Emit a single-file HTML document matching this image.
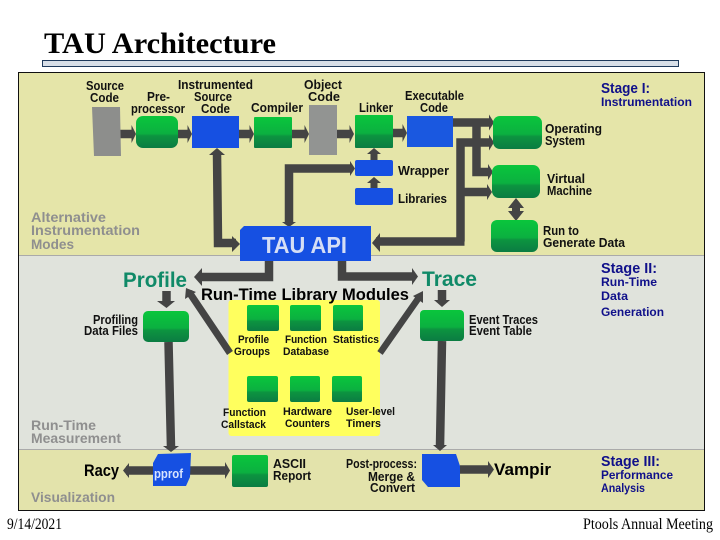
<!DOCTYPE html>
<html><head><meta charset="utf-8"><style>
html,body{margin:0;padding:0;background:#fff}
svg{display:block}
text{font-family:"Liberation Sans",sans-serif;font-weight:bold;fill:#111;font-size:12.5px}
.t{stroke:#444;stroke-width:8.5;fill:none}
.s{fill:#10108a}
.g{fill:#8f8f8f;font-size:14px}
.a{fill:#444}
.m{font-size:11px}
</style></head><body>
<svg width="720" height="540" viewBox="0 0 720 540" xmlns="http://www.w3.org/2000/svg">
<defs>
<linearGradient id="gr" x1="0" y1="0" x2="0" y2="1"><stop offset="0" stop-color="#0ac63c"/><stop offset=".55" stop-color="#0bb040"/><stop offset=".62" stop-color="#0c9440"/><stop offset="1" stop-color="#0b7c42"/></linearGradient>
</defs>
<text x="44" y="53" textLength="232" lengthAdjust="spacingAndGlyphs" style="font-family:'Liberation Serif',serif;font-size:30px;fill:#000">TAU Architecture</text>
<rect x="42.5" y="60.5" width="636" height="6" fill="#d8dfe8" stroke="#1f3a5c" stroke-width="1"/>

<rect x="18" y="72" width="687" height="184" fill="#e5e5a9"/>
<rect x="18" y="256" width="687" height="194" fill="#e0e3dc"/>
<rect x="18" y="450" width="687" height="60" fill="#e3e3ab"/>
<line x1="18" y1="255.5" x2="705" y2="255.5" stroke="#aaa"/>
<line x1="18" y1="449.5" x2="705" y2="449.5" stroke="#aaa"/>
<rect x="18.5" y="72.5" width="686" height="438" fill="none" stroke="#111"/>

<!-- yellow -->
<rect x="228.5" y="300" width="151.5" height="136" rx="3" fill="#ffff5e"/>

<!-- connectors -->
<g class="t">
<path d="M120 134H133M177 134H189M239 134H250M292 134H305M337 134H351M393 133H404"/>
<path d="M453 122.5H490M476.5 122.5V172H489M460.5 241.5V142.5H490M460.5 192H489M464.5 241.5H376"/>
<path d="M217 153L218 243H236M289 223V168.5H351"/>
<path d="M269 261V277H200M342 261V276.5H413"/>
<path d="M166.5 291V304M442 290V303M168.5 342L171 447M442 341L440 446"/>
<path d="M230 353L189 292" stroke-width="7"/>
<path d="M380 353L420 296" stroke-width="6.5"/>
<path d="M153 470.5H126M190 470.5H226M460 469.5H489"/>
<path d="M374 160V152M374 188V181" stroke-width="7"/>
<path d="M516 205V214" stroke-width="8"/>
</g>
<g class="a">
<polygon points="136,134 131.5,125 131.5,143"/>
<polygon points="192,134 187.5,125 187.5,143"/>
<polygon points="254,134 249.5,125 249.5,143"/>
<polygon points="309,134 304.5,125 304.5,143"/>
<polygon points="354,134 349.5,125 349.5,143"/>
<polygon points="407,133 402.5,124 402.5,142"/>
<polygon points="494,122.5 489,114.5 489,130.5"/>
<polygon points="494,142.5 489,134.5 489,150.5"/>
<polygon points="493,172 488,164 488,180"/>
<polygon points="492,192 487,184 487,200"/>
<polygon points="372,243 380,233 380,252"/>
<polygon points="217,148 209,155 225,155"/>
<polygon points="240,244 232,236 232,252"/>
<polygon points="289,227 282,222 296,222"/>
<polygon points="355,168.5 350,161 350,176"/>
<polygon points="374,148 367,154 381,154"/>
<polygon points="374,177 367,183 381,183"/>
<polygon points="516,198 508,208 524,208"/>
<polygon points="516,221 508,211 524,211"/>
<polygon points="194,277 202,268 202,286"/>
<polygon points="418,276.5 412,268 412,285"/>
<polygon points="186,288 185,299 196,292"/>
<polygon points="423,291 413,296 423,303"/>
<polygon points="166.5,308 157,301 175,301"/>
<polygon points="442,307 434,300 450,300"/>
<polygon points="171,452 163,446 179,446"/>
<polygon points="440,451 433,445 447,445"/>
<polygon points="123,470.5 129,463 129,478"/>
<polygon points="230,470.5 225,462 225,479"/>
<polygon points="494,469.5 488,461 488,478"/>
</g>

<!-- gray docs -->
<polygon points="92,107 120,107 121,156 94,156" fill="#8d8e8c"/>
<rect x="309" y="105" width="28" height="50" fill="#929492"/>

<!-- green -->
<g fill="url(#gr)">
<rect x="136" y="116" width="42" height="32" rx="7"/>
<rect x="254" y="117" width="38" height="31" rx="1"/>
<rect x="355" y="115" width="38" height="33" rx="1"/>
<rect x="493" y="116" width="49" height="33" rx="7"/>
<rect x="492" y="165" width="48" height="33" rx="7"/>
<rect x="491" y="220" width="47" height="32" rx="6"/>
<rect x="143" y="311" width="46" height="31" rx="5"/>
<rect x="420" y="310" width="44" height="31" rx="4"/>
<rect x="232" y="455" width="36" height="32" rx="2"/>
<rect x="247" y="305" width="32" height="26" rx="2"/>
<rect x="290" y="305" width="31" height="26" rx="2"/>
<rect x="333" y="305" width="30" height="26" rx="2"/>
<rect x="247" y="376" width="31" height="26" rx="2"/>
<rect x="290" y="376" width="30" height="26" rx="2"/>
<rect x="332" y="376" width="30" height="26" rx="2"/>
</g>

<!-- blue -->
<g fill="#1650e2">
<rect x="192" y="116" width="47" height="32"/>
<rect x="407" y="116" width="46" height="31" fill="#1a58e0"/>
<rect x="355" y="160" width="38" height="16" rx="2"/>
<rect x="355" y="188" width="38" height="17" rx="2"/>
<path d="M244 226H371V261H240V230Z"/>
<polygon points="158,454 191,453 190,477 186,486 153,486 153,463"/>
<polygon points="422,454 456,454 460,466 460,487 428,487 422,480"/>
</g>

<!-- labels -->
<g>
<text x="86" y="90" textLength="38" lengthAdjust="spacingAndGlyphs">Source</text>
<text x="90" y="102" textLength="29" lengthAdjust="spacingAndGlyphs">Code</text>
<text x="147" y="101" textLength="23" lengthAdjust="spacingAndGlyphs">Pre-</text>
<text x="131" y="113" textLength="54" lengthAdjust="spacingAndGlyphs">processor</text>
<text x="178" y="89" textLength="75" lengthAdjust="spacingAndGlyphs">Instrumented</text>
<text x="194" y="101" textLength="38" lengthAdjust="spacingAndGlyphs">Source</text>
<text x="201" y="113" textLength="29" lengthAdjust="spacingAndGlyphs">Code</text>
<text x="251" y="112" textLength="52" lengthAdjust="spacingAndGlyphs">Compiler</text>
<text x="304" y="89" textLength="38" lengthAdjust="spacingAndGlyphs">Object</text>
<text x="308" y="101" textLength="32" lengthAdjust="spacingAndGlyphs">Code</text>
<text x="359" y="112" textLength="34" lengthAdjust="spacingAndGlyphs">Linker</text>
<text x="405" y="100" textLength="59" lengthAdjust="spacingAndGlyphs">Executable</text>
<text x="420" y="112" textLength="28" lengthAdjust="spacingAndGlyphs">Code</text>
<text x="545" y="133" textLength="57" lengthAdjust="spacingAndGlyphs">Operating</text>
<text x="545" y="145" textLength="40" lengthAdjust="spacingAndGlyphs">System</text>
<text x="547" y="183" textLength="38" lengthAdjust="spacingAndGlyphs">Virtual</text>
<text x="547" y="195" textLength="45" lengthAdjust="spacingAndGlyphs">Machine</text>
<text x="543" y="235" textLength="36" lengthAdjust="spacingAndGlyphs">Run to</text>
<text x="543" y="247" textLength="82" lengthAdjust="spacingAndGlyphs">Generate Data</text>
<text x="398" y="175" textLength="51" lengthAdjust="spacingAndGlyphs">Wrapper</text>
<text x="398" y="203" textLength="49" lengthAdjust="spacingAndGlyphs">Libraries</text>
<text x="93" y="324" textLength="45" lengthAdjust="spacingAndGlyphs">Profiling</text>
<text x="84" y="335" textLength="54" lengthAdjust="spacingAndGlyphs">Data Files</text>
<text x="469" y="324" textLength="69" lengthAdjust="spacingAndGlyphs">Event Traces</text>
<text x="469" y="335" textLength="63" lengthAdjust="spacingAndGlyphs">Event Table</text>
<text class="m" x="238" y="343" textLength="31" lengthAdjust="spacingAndGlyphs">Profile</text>
<text class="m" x="234" y="355" textLength="36" lengthAdjust="spacingAndGlyphs">Groups</text>
<text class="m" x="285" y="343" textLength="42" lengthAdjust="spacingAndGlyphs">Function</text>
<text class="m" x="283" y="355" textLength="46" lengthAdjust="spacingAndGlyphs">Database</text>
<text class="m" x="333" y="343" textLength="46" lengthAdjust="spacingAndGlyphs">Statistics</text>
<text class="m" x="223" y="416" textLength="43" lengthAdjust="spacingAndGlyphs">Function</text>
<text class="m" x="221" y="428" textLength="45" lengthAdjust="spacingAndGlyphs">Callstack</text>
<text class="m" x="283" y="415" textLength="49" lengthAdjust="spacingAndGlyphs">Hardware</text>
<text class="m" x="285" y="427" textLength="45" lengthAdjust="spacingAndGlyphs">Counters</text>
<text class="m" x="346" y="415" textLength="49" lengthAdjust="spacingAndGlyphs">User-level</text>
<text class="m" x="346" y="427" textLength="35" lengthAdjust="spacingAndGlyphs">Timers</text>
<text x="273" y="468" textLength="33" lengthAdjust="spacingAndGlyphs">ASCII</text>
<text x="273" y="480" textLength="38" lengthAdjust="spacingAndGlyphs">Report</text>
<text x="346" y="468" textLength="71" lengthAdjust="spacingAndGlyphs">Post-process:</text>
<text x="368" y="481" textLength="47" lengthAdjust="spacingAndGlyphs">Merge &amp;</text>
<text x="370" y="492" textLength="45" lengthAdjust="spacingAndGlyphs">Convert</text>
<text x="84" y="476" textLength="35" lengthAdjust="spacingAndGlyphs" style="font-size:17px;fill:#000">Racy</text>
<text x="494" y="475" textLength="57" lengthAdjust="spacingAndGlyphs" style="font-size:17px;fill:#000">Vampir</text>
<text x="154" y="478" textLength="29" lengthAdjust="spacingAndGlyphs" style="fill:#d8e4ff;font-size:13px">pprof</text>
<text x="262" y="253" textLength="85" lengthAdjust="spacingAndGlyphs" style="fill:#d5def5;font-size:23px">TAU API</text>
<text x="123" y="287" textLength="64" lengthAdjust="spacingAndGlyphs" style="fill:#108a68;font-size:21px">Profile</text>
<text x="422" y="286" textLength="55" lengthAdjust="spacingAndGlyphs" style="fill:#108a68;font-size:21px">Trace</text>
<text x="201" y="300" textLength="208" lengthAdjust="spacingAndGlyphs" style="fill:#000;font-size:17px">Run-Time Library Modules</text>
<text class="g" x="31" y="222" textLength="75" lengthAdjust="spacingAndGlyphs">Alternative</text>
<text class="g" x="31" y="235" textLength="109" lengthAdjust="spacingAndGlyphs">Instrumentation</text>
<text class="g" x="31" y="249" textLength="43" lengthAdjust="spacingAndGlyphs">Modes</text>
<text class="g" x="31" y="430" textLength="65" lengthAdjust="spacingAndGlyphs">Run-Time</text>
<text class="g" x="31" y="443" textLength="90" lengthAdjust="spacingAndGlyphs">Measurement</text>
<text class="g" x="31" y="502" textLength="84" lengthAdjust="spacingAndGlyphs">Visualization</text>
<text class="s" x="601" y="93" textLength="49" lengthAdjust="spacingAndGlyphs" style="font-size:14.5px">Stage I:</text>
<text class="s" x="601" y="106" textLength="91" lengthAdjust="spacingAndGlyphs" style="font-size:12px">Instrumentation</text>
<text class="s" x="601" y="273" textLength="56" lengthAdjust="spacingAndGlyphs" style="font-size:14.5px">Stage II:</text>
<text class="s" x="601" y="286" textLength="56" lengthAdjust="spacingAndGlyphs" style="font-size:12px">Run-Time</text>
<text class="s" x="601" y="300" textLength="27" lengthAdjust="spacingAndGlyphs" style="font-size:12px">Data</text>
<text class="s" x="601" y="316" textLength="63" lengthAdjust="spacingAndGlyphs" style="font-size:12px">Generation</text>
<text class="s" x="601" y="466" textLength="59" lengthAdjust="spacingAndGlyphs" style="font-size:14.5px">Stage III:</text>
<text class="s" x="601" y="479" textLength="72" lengthAdjust="spacingAndGlyphs" style="font-size:12px">Performance</text>
<text class="s" x="601" y="492" textLength="44" lengthAdjust="spacingAndGlyphs" style="font-size:12px">Analysis</text>
</g>
<text x="7" y="529" textLength="55" lengthAdjust="spacingAndGlyphs" style="font-family:'Liberation Serif',serif;font-weight:normal;font-size:15.5px;fill:#000">9/14/2021</text>
<text x="583" y="529" textLength="130" lengthAdjust="spacingAndGlyphs" style="font-family:'Liberation Serif',serif;font-weight:normal;font-size:15.5px;fill:#000">Ptools Annual Meeting</text>
</svg>
</body></html>
